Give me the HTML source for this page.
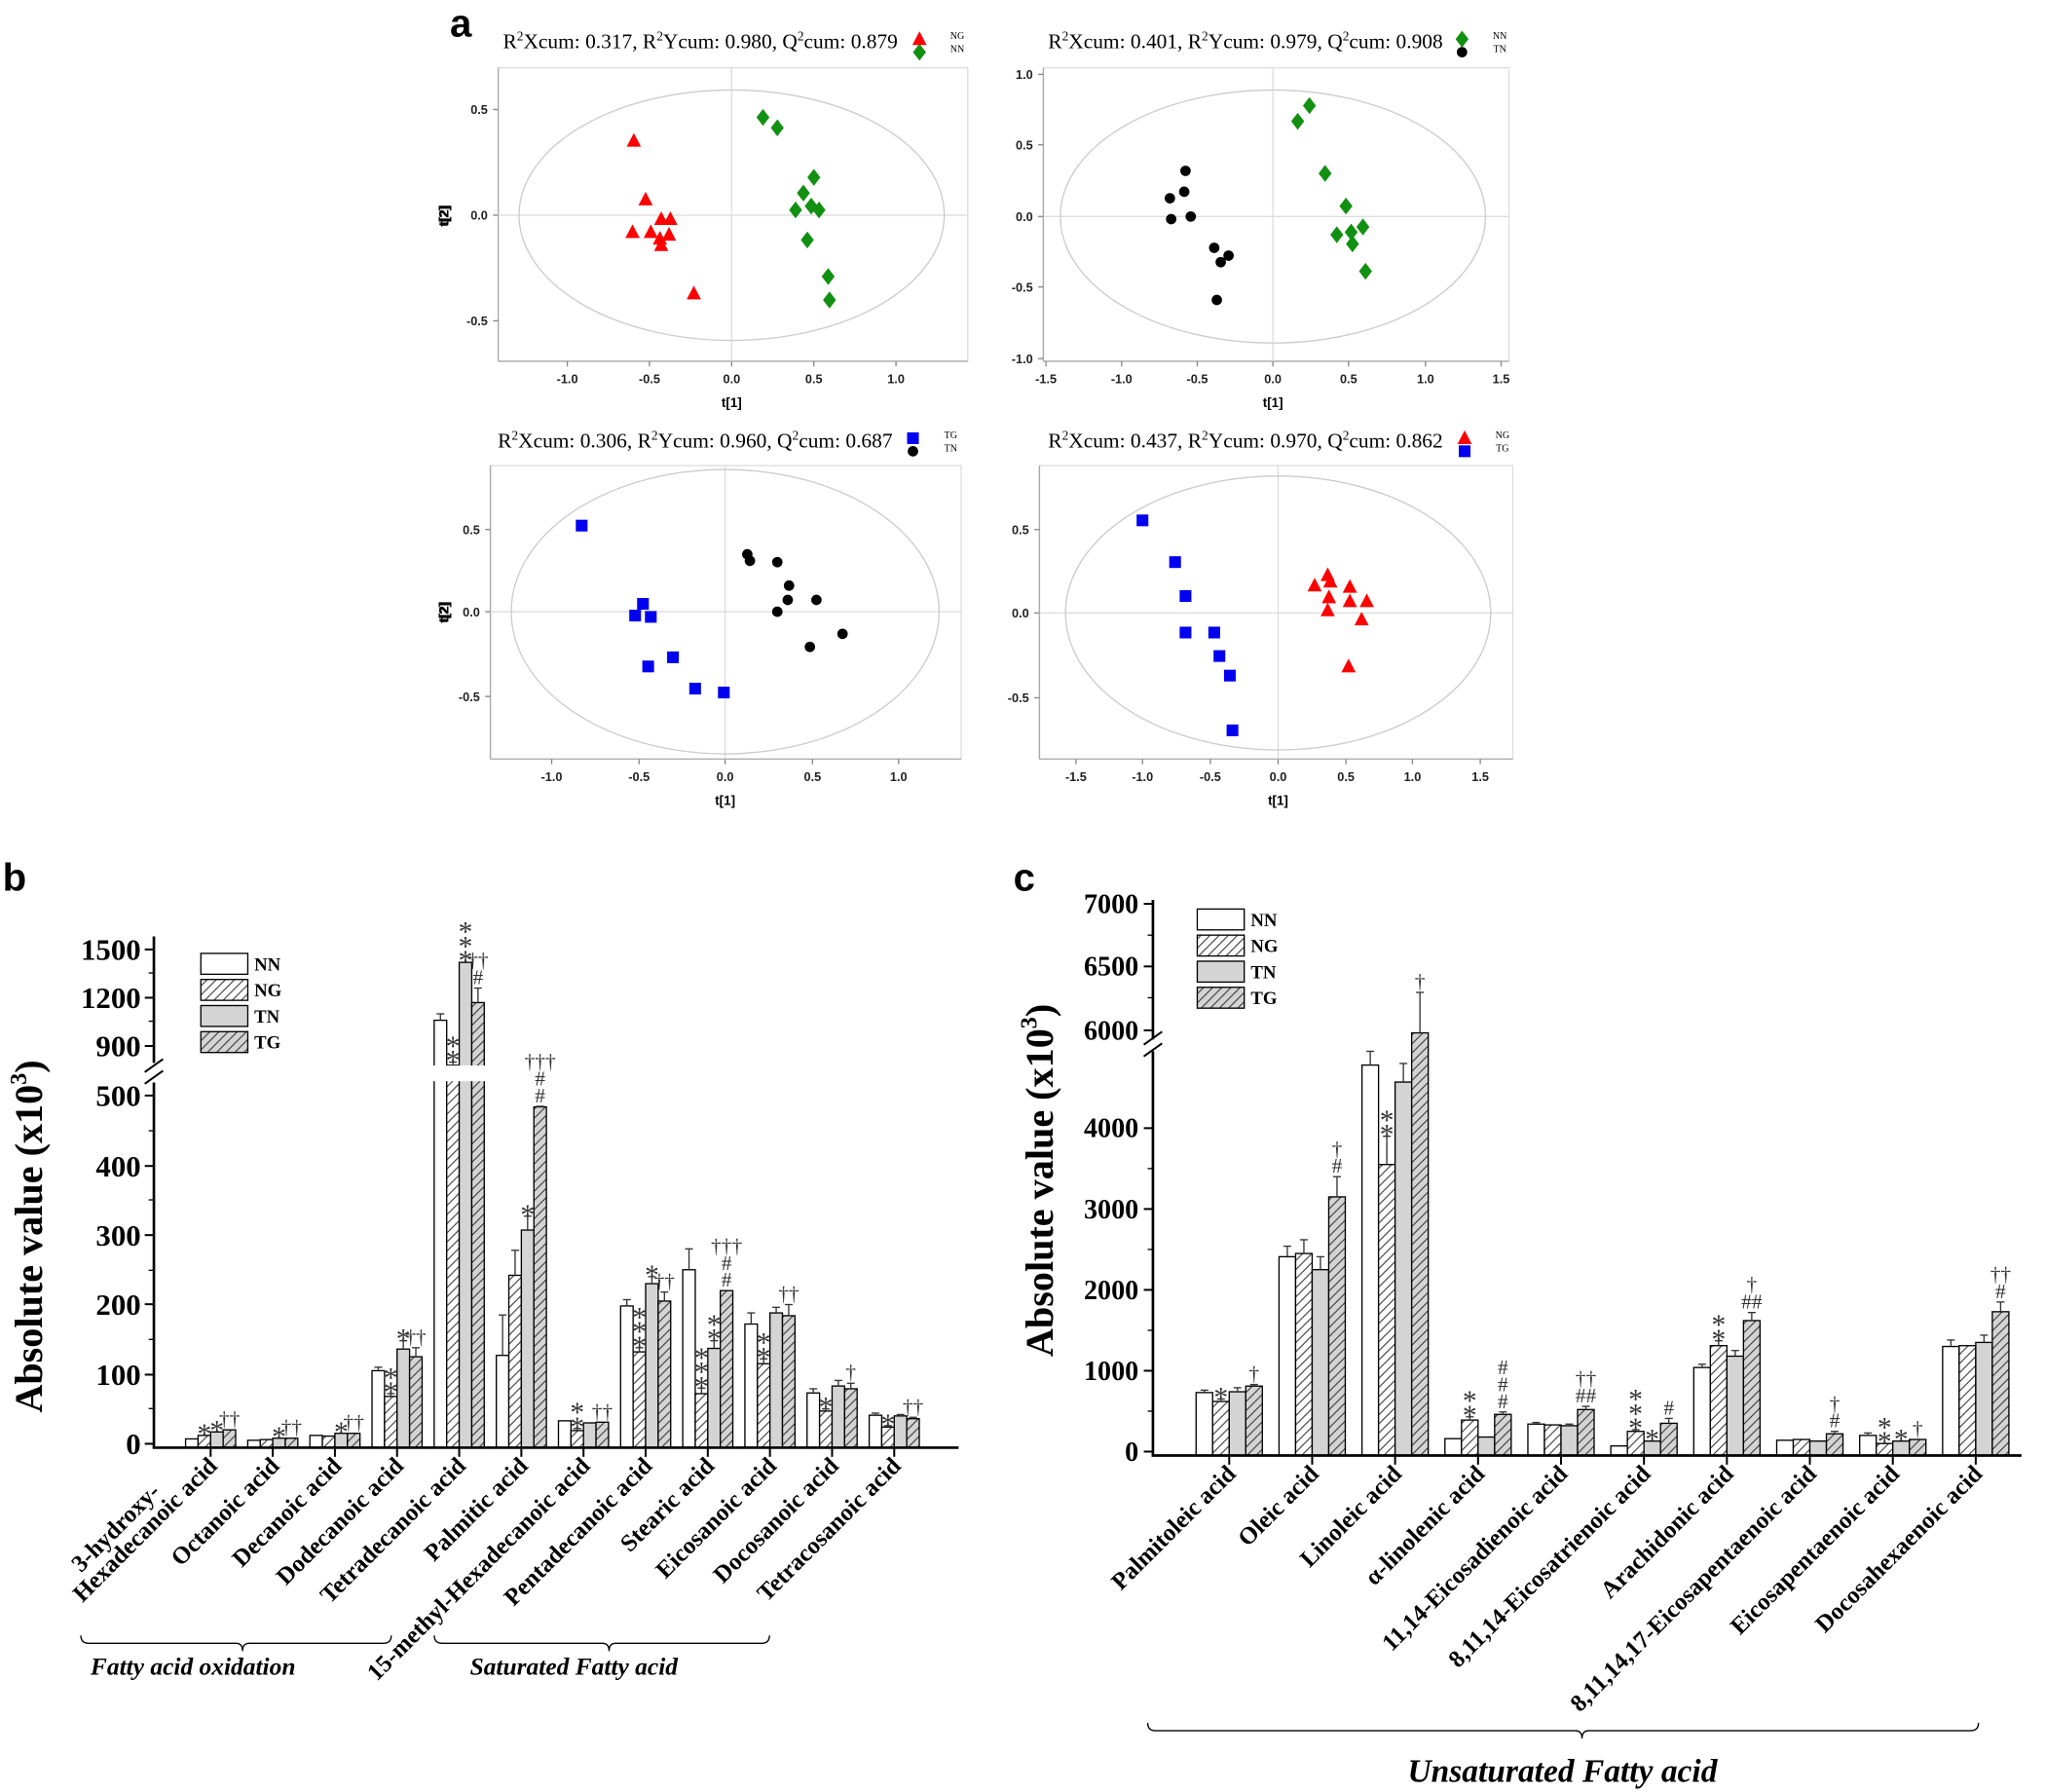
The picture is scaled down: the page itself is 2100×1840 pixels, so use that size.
<!DOCTYPE html>
<html><head><meta charset="utf-8"><style>
html,body{margin:0;padding:0;background:#fff;}
svg{display:block;}
</style></head><body>
<svg id="s" xmlns="http://www.w3.org/2000/svg" width="2100" height="1840" viewBox="0 0 1568 1374" preserveAspectRatio="none">
<defs>
<pattern id="h" patternUnits="userSpaceOnUse" width="7" height="7"><rect width="7" height="7" fill="#fff"/><path d="M-1,8 L8,-1 M-1,1 L1,-1 M6,8 L8,6" stroke="#333" stroke-width="0.8"/></pattern>
<pattern id="hg" patternUnits="userSpaceOnUse" width="7" height="7"><rect width="7" height="7" fill="#d4d4d4"/><path d="M-1,8 L8,-1 M-1,1 L1,-1 M6,8 L8,6" stroke="#333" stroke-width="0.8"/></pattern>
</defs>
<g id="g"></g>
</svg>
<script>
var o='';
function T(x,y,t,a){o+='<text x="'+x+'" y="'+y+'" '+(a||'')+'>'+t+'</text>';}
var SERIF='font-family="Liberation Serif, serif"',SANS='font-family="Liberation Sans, sans-serif"';
T(345,28,'a',SANS+' font-weight="bold" font-size="30"');
T(2,683,'b',SANS+' font-weight="bold" font-size="30"');
T(777,683,'c',SANS+' font-weight="bold" font-size="30"');
function mk(type,x,y){
 if(type=='tri')o+='<polygon points="'+x+','+(y-6)+' '+(x-5.5)+','+(y+4.5)+' '+(x+5.5)+','+(y+4.5)+'" fill="#f00"/>';
 else if(type=='dia')o+='<polygon points="'+x+','+(y-6.5)+' '+(x-5)+','+y+' '+x+','+(y+6.5)+' '+(x+5)+','+y+'" fill="#129012"/>';
 else if(type=='cir')o+='<circle cx="'+x+'" cy="'+y+'" r="4" fill="#000"/>';
 else o+='<rect x="'+(x-4.5)+'" y="'+(y-4.5)+'" width="9" height="9" fill="#0000f0"/>';
}
function scat(p){
 o+='<rect x="'+p.fx[0]+'" y="'+p.fy[0]+'" width="'+(p.fx[1]-p.fx[0])+'" height="'+(p.fy[1]-p.fy[0])+'" fill="none" stroke="#ddd" stroke-width="1"/>';
 o+='<line x1="'+p.fx[0]+'" y1="'+p.fy[0]+'" x2="'+p.fx[0]+'" y2="'+p.fy[1]+'" stroke="#aaa"/>';
 o+='<line x1="'+p.fx[0]+'" y1="'+p.fy[1]+'" x2="'+p.fx[1]+'" y2="'+p.fy[1]+'" stroke="#aaa"/>';
 o+='<line x1="'+p.cx+'" y1="'+p.fy[0]+'" x2="'+p.cx+'" y2="'+p.fy[1]+'" stroke="#ddd"/>';
 o+='<line x1="'+p.fx[0]+'" y1="'+p.cy+'" x2="'+p.fx[1]+'" y2="'+p.cy+'" stroke="#ddd"/>';
 o+='<ellipse cx="'+p.cx+'" cy="'+p.cy+'" rx="'+p.rx+'" ry="'+p.ry+'" fill="none" stroke="#ccc" stroke-width="1"/>';
 p.xt.forEach(function(t){o+='<line x1="'+t[1]+'" y1="'+p.fy[1]+'" x2="'+t[1]+'" y2="'+(p.fy[1]+4)+'" stroke="#888"/>';T(t[1],p.fy[1]+17,t[0],SANS+' font-weight="bold" font-size="9.5" text-anchor="middle" fill="#222"');});
 p.yt.forEach(function(t){o+='<line x1="'+(p.fx[0]-4)+'" y1="'+t[1]+'" x2="'+p.fx[0]+'" y2="'+t[1]+'" stroke="#888"/>';T(p.fx[0]-8,t[1]+3.5,t[0],SANS+' font-weight="bold" font-size="9.5" text-anchor="end" fill="#222"');});
 T(p.cx,p.fy[1]+35,'t[1]',SANS+' font-weight="bold" font-size="10" text-anchor="middle"');
 o+='<text x="0" y="0" '+SANS+' font-weight="bold" font-size="10" text-anchor="middle" transform="translate(344,'+p.cy+') rotate(-90)">t[2]</text>';
 var v=p.title;
 o+='<text x="'+p.tx+'" y="'+p.ty+'" '+SERIF+' font-size="16" text-anchor="middle">R<tspan font-size="10" dy="-6">2</tspan><tspan dy="6">Xcum: '+v[0]+', R</tspan><tspan font-size="10" dy="-6">2</tspan><tspan dy="6">Ycum: '+v[1]+', Q</tspan><tspan font-size="10" dy="-6">2</tspan><tspan dy="6">cum: '+v[2]+'</tspan></text>';
 mk(p.lg[0],p.lx,p.ty-7);mk(p.lg[1],p.lx,p.ty+3);
 T(p.lx+29,p.ty-7,p.ln[0],SERIF+' font-size="7.5" text-anchor="middle"');
 T(p.lx+29,p.ty+3,p.ln[1],SERIF+' font-size="7.5" text-anchor="middle"');
 p.pts.forEach(function(s){s[1].forEach(function(q){mk(s[0],q[0],q[1]);});});
}
scat({fx:[382,742],fy:[52,277],cx:561,cy:165,rx:163,ry:96,
 xt:[['-1.0',435],['-0.5',498],['0.0',561],['0.5',624],['1.0',687]],yt:[['0.5',84],['0.0',165],['-0.5',246]],
 title:['0.317','0.980','0.879'],tx:537,ty:37,lx:705,lg:['tri','dia'],ln:['NG','NN'],
 pts:[['tri',[[486,108],[495,153],[485,178],[499,178],[507,168],[514,168],[506,183],[507,188],[513,180],[532,225]]],
 ['dia',[[585,90],[596,98],[624,136],[616,148],[610,161],[622,158],[628,161],[619,184],[635,212],[636,230]]]]});
scat({fx:[800,1157],fy:[52,277],cx:976,cy:166,rx:163,ry:97,
 xt:[['-1.5',802],['-1.0',860],['-0.5',918],['0.0',976],['0.5',1034],['1.0',1093],['1.5',1151]],yt:[['1.0',57],['0.5',111],['0.0',166],['-0.5',220],['-1.0',275]],
 title:['0.401','0.979','0.908'],tx:955,ty:37,lx:1121,lg:['dia','cir'],ln:['NN','TN'],
 pts:[['cir',[[909,131],[897,152],[908,147],[913,166],[898,168],[931,190],[942,196],[936,201],[933,230]]],
 ['dia',[[1004,81],[995,93],[1016,133],[1032,158],[1025,180],[1036,178],[1045,174],[1037,187],[1047,208]]]]});
scat({fx:[376,737],fy:[357,582],cx:556,cy:469,rx:164,ry:109,
 xt:[['-1.0',423],['-0.5',490],['0.0',556],['0.5',623],['1.0',689]],yt:[['0.5',406],['0.0',469],['-0.5',534]],
 title:['0.306','0.960','0.687'],tx:533,ty:343,lx:700,lg:['sq','cir'],ln:['TG','TN'],
 pts:[['sq',[[446,403],[493,463],[487,472],[499,473],[516,504],[497,511],[533,528],[555,531]]],
 ['cir',[[573,425],[575,430],[596,431],[605,449],[604,460],[626,460],[596,469],[621,496],[646,486]]]]});
scat({fx:[797,1160],fy:[357,582],cx:980,cy:470,rx:163,ry:105,
 xt:[['-1.5',825],['-1.0',876],['-0.5',928],['0.0',980],['0.5',1032],['1.0',1083],['1.5',1135]],yt:[['0.5',406],['0.0',470],['-0.5',535]],
 title:['0.437','0.970','0.862'],tx:955,ty:343,lx:1123,lg:['tri','sq'],ln:['NG','TG'],
 pts:[['sq',[[876,399],[901,431],[909,457],[909,485],[931,485],[935,503],[943,518],[945,560]]],
 ['tri',[[1018,441],[1008,449],[1020,446],[1035,450],[1019,458],[1048,461],[1035,461],[1018,468],[1044,475],[1034,511]]]]});

var fills=['#fff','url(#h)','#d4d4d4','url(#hg)'];
function barchart(c){
 var ay=c.ay;
 c.data.forEach(function(d,i){
  var cx=c.c0+i*c.sp;
  for(var k=0;k<4;k++){
   var x=cx-2*c.bw+k*c.bw,v=d[k][0],e=d[k][1],y=c.yf(v);
   o+='<rect x="'+x+'" y="'+y+'" width="'+c.bw+'" height="'+(ay-y)+'" fill="'+fills[k]+'" stroke="#000" stroke-width="1"/>';
   var top=y;
   if(e){var ye=c.yf(e);top=ye;o+='<line x1="'+(x+c.bw/2)+'" y1="'+y+'" x2="'+(x+c.bw/2)+'" y2="'+ye+'" stroke="#333" stroke-width="1"/><line x1="'+(x+c.bw/2-3)+'" y1="'+ye+'" x2="'+(x+c.bw/2+3)+'" y2="'+ye+'" stroke="#333" stroke-width="1"/>';}
   d[k].top=top;d[k].x=x+c.bw/2;
  }
  (d[4]||[]).forEach(function(a){
   var b=d[a[0]],yy=b.top-3;
   for(var j=a[1].length-1;j>=0;j--){var s=a[1][j];var star=s.indexOf('*')>=0;
    T(b.x,yy+(star?9:0),s,SERIF+' font-size="'+(star?22:16)+'" text-anchor="middle" fill="#333"');yy-=star?11:13;}
  });
  o+='<line x1="'+cx+'" y1="'+ay+'" x2="'+cx+'" y2="'+(ay+7)+'" stroke="#000" stroke-width="1.5"/>';
  var L=c.labels[i];
  if(typeof L=='string')o+='<text '+SERIF+' font-weight="bold" font-size="'+c.lfs+'" text-anchor="end" transform="translate('+(cx+6)+','+(ay+15)+') rotate(-45)">'+L+'</text>';
  else{o+='<text '+SERIF+' font-weight="bold" font-size="'+c.lfs+'" text-anchor="end" transform="translate('+(cx+6)+','+(ay+15)+') rotate(-45)">'+L[1]+'</text>';
   o+='<text '+SERIF+' font-weight="bold" font-size="'+c.lfs+'" text-anchor="end" transform="translate('+(cx+6)+','+(ay+15)+') rotate(-45)" x="-45" y="-17">'+L[0]+'</text>';}
 });
}
function yb(v){return v<=500?1107-v*0.5337:802-(v-900)*0.1233;}
var bd=[
 [[7],[12],[17],[20],[[1,['*']],[2,['*']],[3,['††']]]],
 [[5],[6],[8],[8],[[2,['*']],[3,['††']]]],
 [[12],[11],[15],[15],[[2,['*']],[3,['††']]]],
 [[105,110],[68,72],[136,148],[125,138],[[1,['*','*']],[2,['*']],[3,['††']]]],
 [[1060,1100],[780,800],[1420,0],[1170,1260],[[1,['*','*']],[2,['*','*','*']],[3,['††','#']]]],
 [[127,185],[242,278],[307,327],[484,525],[[2,['*']],[3,['†††','#','#']]]],
 [[33],[19,22],[30],[31],[[1,['*','*']],[3,['††']]]],
 [[198,207],[132,138],[230,240],[205,218],[[1,['*','*','*']],[2,['*']],[3,['††']]]],
 [[250,280],[72,80],[137,148],[220,0],[[1,['*','*','*']],[2,['*','*']],[3,['†††','#','#']]]],
 [[172,188],[115,122],[188,196],[184,200],[[1,['*','*']],[3,['††']]]],
 [[73,79],[47,50],[83,91],[79,87],[[1,['*']],[3,['†']]]],
 [[41,44],[24,26],[40,42],[36,38],[[1,['*']],[3,['††']]]]];
barchart({ay:1110,yf:yb,c0:161.5,sp:47.65,bw:9.6,data:bd,lfs:18.5,labels:[['3-hydroxy-','Hexadecanoic acid'],'Octanoic acid','Decanoic acid','Dodecanoic acid','Tetradecanoic acid','Palmitic acid','15-methyl-Hexadecanoic acid','Pentadecanoic acid','Stearic acid','Eicosanoic acid','Docosanoic acid','Tetracosanoic acid']});
o+='<rect x="330" y="817" width="46" height="12" fill="#fff"/>';
o+='<line x1="118" y1="718" x2="118" y2="815" stroke="#000" stroke-width="2"/><line x1="118" y1="830" x2="118" y2="1110" stroke="#000" stroke-width="2"/>';
o+='<line x1="111" y1="822" x2="125" y2="812" stroke="#000" stroke-width="1.5"/><line x1="111" y1="831" x2="125" y2="821" stroke="#000" stroke-width="1.5"/>';
o+='<line x1="117" y1="1110" x2="735" y2="1110" stroke="#000" stroke-width="2"/>';
[['1500',728],['1200',765],['900',802],['500',840],['400',894],['300',947],['200',1000],['100',1054],['0',1107]].forEach(function(t){
 o+='<line x1="111" y1="'+t[1]+'" x2="118" y2="'+t[1]+'" stroke="#000" stroke-width="1.5"/>';T(108,t[1]+8,t[0],SERIF+' font-weight="bold" font-size="23" text-anchor="end"');});
[746,783,867,920,974,1027,1080].forEach(function(y){o+='<line x1="114" y1="'+y+'" x2="118" y2="'+y+'" stroke="#000"/>';});
o+='<text '+SERIF+' font-weight="bold" font-size="30" text-anchor="middle" transform="translate(32,948) rotate(-90)">Absolute value (x10<tspan font-size="18" dy="-12">3</tspan><tspan dy="12">)</tspan></text>';
function legend(x,y0){['NN','NG','TN','TG'].forEach(function(n,i){var y=y0+i*20;o+='<rect x="'+x+'" y="'+y+'" width="36" height="16" fill="'+fills[i]+'" stroke="#000" stroke-width="1"/>';T(x+41,y+13,n,SERIF+' font-weight="bold" font-size="14"');});}
legend(154,731);
function brace(x1,x2,xm,y){o+='<path d="M'+x1+','+(y-6)+' Q'+x1+','+y+' '+(x1+6)+','+y+' L'+(xm-5)+','+y+' Q'+xm+','+y+' '+xm+','+(y+6)+' Q'+xm+','+y+' '+(xm+5)+','+y+' L'+(x2-6)+','+y+' Q'+x2+','+y+' '+x2+','+(y-6)+'" fill="none" stroke="#000" stroke-width="1"/>';}
brace(62,300,186,1260);brace(333,590,467,1260);
T(148,1284,'Fatty acid oxidation',SERIF+' font-weight="bold" font-style="italic" font-size="19" text-anchor="middle"');
T(440,1284,'Saturated Fatty acid',SERIF+' font-weight="bold" font-style="italic" font-size="19" text-anchor="middle"');
function yc(v){return v<=5000?1113-v*0.062:790-(v-6000)*0.097;}
var cd=[
 [[730,760],[620,650],[740,790],[810,830],[[1,['*']],[3,['†']]]],
 [[2410,2540],[2450,2620],[2250,2410],[3150,3400],[[3,['†','#']]]],
 [[4780,4950],[3550,3900],[4570,4800],[5980,6300],[[1,['*','*']],[3,['†']]]],
 [[160,0],[390,430],[180,0],[460,490],[[1,['*','*']],[3,['#','#','#']]]],
 [[340,360],[330,0],[320,340],[520,560],[[3,['††','##']]]],
 [[70,0],[250,270],[130,0],[350,410],[[1,['*','*','*']],[2,['*']],[3,['#']]]],
 [[1040,1080],[1310,1370],[1180,1250],[1620,1720],[[1,['*','*']],[3,['†','##']]]],
 [[140,0],[150,0],[130,0],[220,250],[[3,['†','#']]]],
 [[200,230],[100,0],[130,0],[150,0],[[1,['*','*']],[2,['*']],[3,['†']]]],
 [[1300,1380],[1310,0],[1350,1440],[1730,1850],[[3,['††','#']]]]];
barchart({ay:1116,yf:yc,c0:942.5,sp:63.6,bw:12.7,data:cd,lfs:18.5,labels:['Palmitoleic acid','Oleic acid','Linoleic acid','α-linolenic acid','11,14-Eicosadienoic acid','8,11,14-Eicosatrienoic acid','Arachidonic acid','8,11,14,17-Eicosapentaenoic acid','Eicosapentaenoic acid','Docosahexaenoic acid']});
o+='<line x1="884" y1="690" x2="884" y2="797" stroke="#000" stroke-width="2"/><line x1="884" y1="806" x2="884" y2="1116" stroke="#000" stroke-width="2"/>';
o+='<line x1="877" y1="801" x2="891" y2="791" stroke="#000" stroke-width="1.5"/><line x1="877" y1="810" x2="891" y2="800" stroke="#000" stroke-width="1.5"/>';
o+='<line x1="883" y1="1116" x2="1550" y2="1116" stroke="#000" stroke-width="2"/>';
[['7000',693],['6500',741],['6000',790],['4000',865],['3000',927],['2000',989],['1000',1051],['0',1113]].forEach(function(t){
 o+='<line x1="877" y1="'+t[1]+'" x2="884" y2="'+t[1]+'" stroke="#000" stroke-width="1.5"/>';T(873,t[1]+7,t[0],SERIF+' font-weight="bold" font-size="21" text-anchor="end"');});
[717,765,896,958,1020,1082].forEach(function(y){o+='<line x1="880" y1="'+y+'" x2="884" y2="'+y+'" stroke="#000"/>';});
o+='<text '+SERIF+' font-weight="bold" font-size="30" text-anchor="middle" transform="translate(807,905) rotate(-90)">Absolute value (x10<tspan font-size="18" dy="-12">3</tspan><tspan dy="12">)</tspan></text>';
legend(918,697);
brace(880,1517,1213,1327);
T(1198,1366,'Unsaturated Fatty acid',SERIF+' font-weight="bold" font-style="italic" font-size="25" text-anchor="middle"');
document.getElementById('g').innerHTML=o;
</script>
</body></html>
